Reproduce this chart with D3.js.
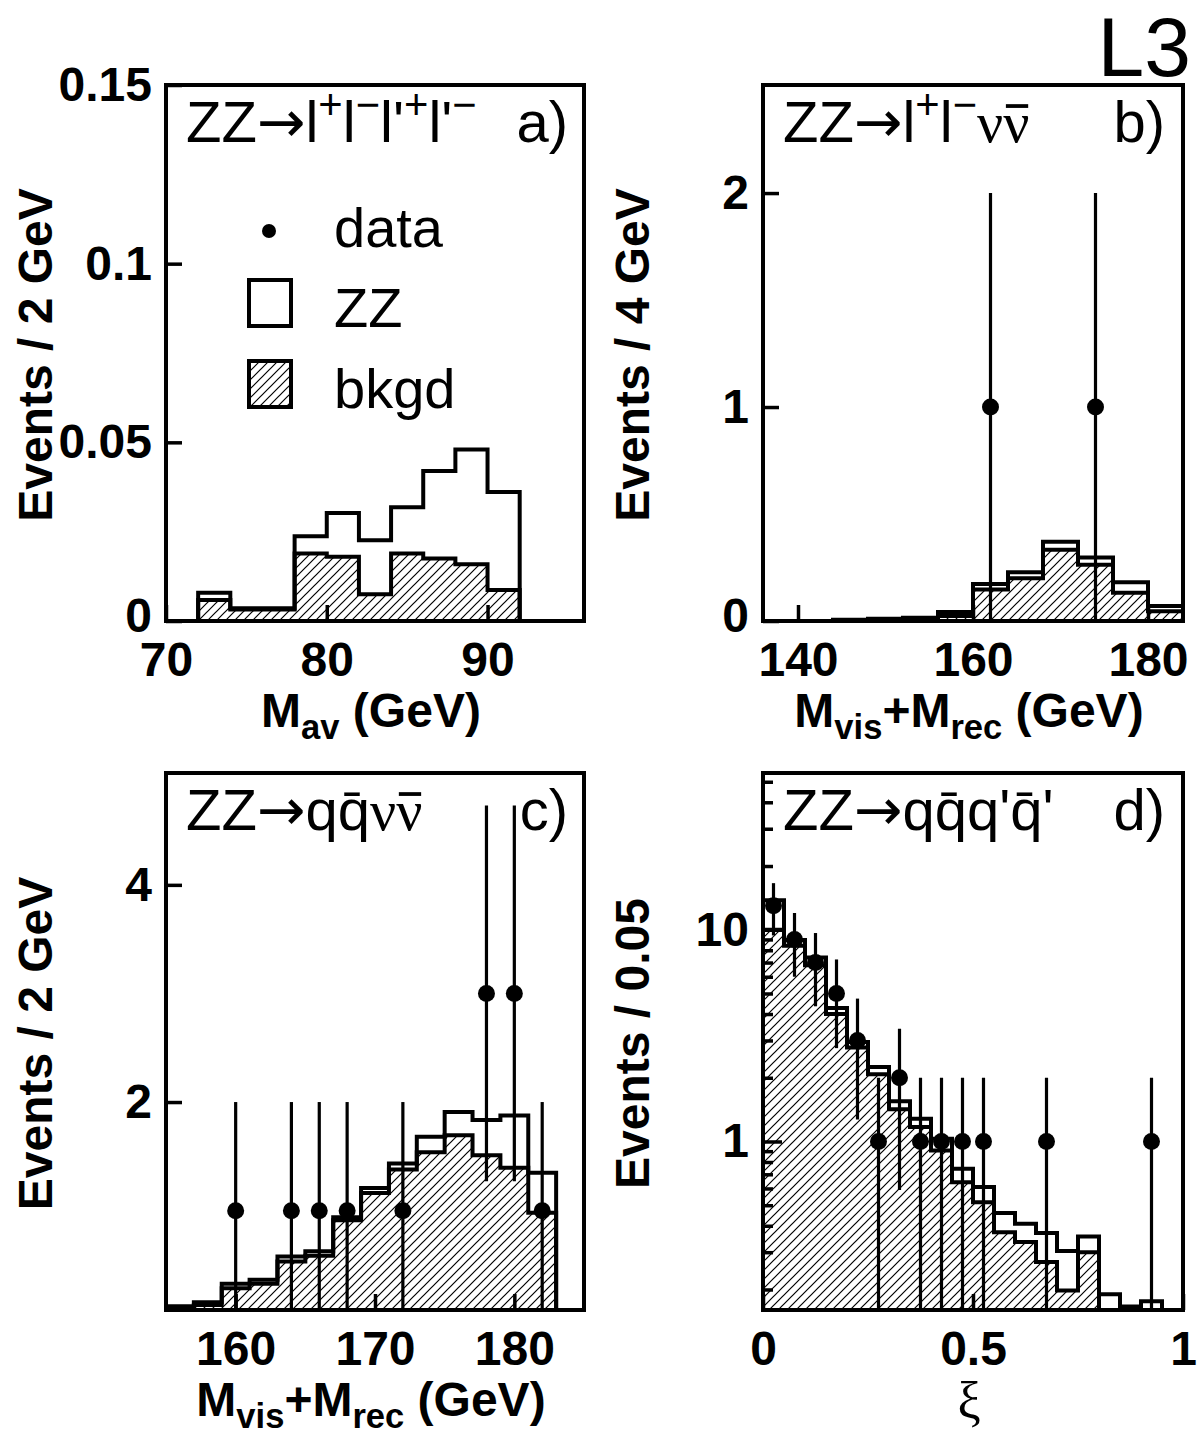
<!DOCTYPE html>
<html>
<head>
<meta charset="utf-8">
<script src="https://cdn.jsdelivr.net/npm/d3@7"></script>
<style>
  body { margin: 0; background: #fff; }
</style>
</head>
<body>
<script>
// a) ZZ -> l+l-l'+l'-, M_av, 2 GeV bins
var aEdges = [72, 74, 76, 78, 80, 82, 84, 86, 88, 90, 92];
var aTotal = [0.0079, 0.0036, 0.0036, 0.0237, 0.0302, 0.0226, 0.0318, 0.0420, 0.0480, 0.0361];
var aBkgd  = [0.0059, 0.0032, 0.0032, 0.0189, 0.0180, 0.0075, 0.0189, 0.0175, 0.0159, 0.0087];

// b) ZZ -> l+l- nu nubar, 4 GeV bins
var bEdges = [140, 144, 148, 152, 156, 160, 164, 168, 172, 176, 180, 184];
var bTotal = [0, 0.006, 0.010, 0.015, 0.042, 0.173, 0.228, 0.370, 0.297, 0.181, 0.070];
var bBkgd  = [0, 0.003, 0.006, 0.010, 0.023, 0.147, 0.200, 0.333, 0.263, 0.132, 0.046];
var bDataX = [162, 174];
var bDataY = [1, 1];
var bDataErr = [1, 1];

// c) ZZ -> q qbar nu nubar, 2 GeV bins
var cEdges = [155, 157, 159, 161, 163, 165, 167, 169, 171, 173, 175, 177, 179, 181, 183];
var cTotal = [0.12, 0.157, 0.326, 0.363, 0.578, 0.625, 0.938, 1.209, 1.434, 1.68, 1.908, 1.834, 1.877, 1.348];
var cBkgd  = [0.11, 0.13, 0.286, 0.326, 0.532, 0.585, 0.911, 1.163, 1.378, 1.538, 1.695, 1.511, 1.394, 0.98];
var cDataX = [160, 164, 166, 168, 172, 178, 180, 182];
var cDataY = [1, 1, 1, 1, 1, 3, 3, 1];
var cDataErr = [1, 1, 1, 1, 1, 1.73, 1.73, 1];

// d) ZZ -> q qbar q' qbar', xi, 0.05 bins (log scale)
var dEdges = [0, 0.05, 0.1, 0.15, 0.2, 0.25, 0.3, 0.35, 0.4, 0.45, 0.5, 0.55, 0.6, 0.65, 0.7, 0.75, 0.8, 0.85, 0.9, 0.95, 1.0];
var dTotal = [13.8, 8.94, 7.4, 4.27, 2.95, 2.25, 1.55, 1.28, 1.03, 0.743, 0.609, 0.459, 0.409, 0.37, 0.304, 0.356, 0.19, 0.166, 0.176, 0];
var dBkgd  = [10.0, 8.4, 6.8, 4.0, 2.78, 2.08, 1.42, 1.17, 0.906, 0.642, 0.517, 0.373, 0.335, 0.27, 0.198, 0.30, 0, 0, 0, 0];
var dDataX = [0.025, 0.075, 0.125, 0.175, 0.225, 0.275, 0.325, 0.375, 0.425, 0.475, 0.525, 0.675, 0.925];
var dDataY = [13, 9, 7, 5, 3, 1, 2, 1, 1, 1, 1, 1, 1];
var dDataErr = [3.6, 3, 2.65, 2.24, 1.73, 1, 1.41, 1, 1, 1, 1, 1, 1];

// tick labels
var aXTicks = [70, 80, 90],        aXLabels = ["70", "80", "90"];
var aYTicks = [0, 0.05, 0.1, 0.15], aYLabels = ["0", "0.05", "0.1", "0.15"];
var bXTicks = [140, 160, 180],     bXLabels = ["140", "160", "180"];
var bYTicks = [0, 1, 2],           bYLabels = ["0", "1", "2"];
var cXTicks = [160, 170, 180],     cXLabels = ["160", "170", "180"];
var cYTicks = [2, 4],              cYLabels = ["2", "4"];
var dXTicks = [0, 0.5, 1],         dXLabels = ["0", "0.5", "1"];
var dYTicks = [1, 10],             dYLabels = ["1", "10"];
var dYMinor = [0.2, 0.3, 0.4, 0.5, 0.6, 0.7, 0.8, 0.9, 2, 3, 4, 5, 6, 7, 8, 9, 20, 30, 40, 50];

var SANS = '"Liberation Sans", Arial, Helvetica, sans-serif';
var SERIF = '"Liberation Serif", "Times New Roman", serif';
var ARROW = '"DejaVu Sans", sans-serif';

var svg = d3.select("body").append("svg")
    .attr("width", 1199)
    .attr("height", 1437)
    .style("font-family", SANS);

var defs = svg.append("defs");
var pat = defs.append("pattern")
    .attr("id", "hatch")
    .attr("patternUnits", "userSpaceOnUse")
    .attr("width", 9)
    .attr("height", 9);
pat.append("rect").attr("width", 9).attr("height", 9).attr("fill", "#fff");
pat.append("path")
    .attr("d", "M-1,1L1,-1M0,9L9,0M8,10L10,8")
    .attr("stroke", "#000")
    .attr("stroke-width", 1.2);

// text with super/subscripts, parts = [{t, sup, sub, font, over}]
function rich(sel, parts, size) {
  var shift = 0, idx = 0, overs = [];
  parts.forEach(function(p) {
    var s = p.sup ? -0.40 * size : (p.sub ? 0.26 * size : 0);
    var t = sel.append("tspan").text(p.t).attr("dy", s - shift);
    if (p.sup || p.sub) t.attr("font-size", size * 0.72);
    if (p.font) t.style("font-family", p.font);
    if (p.over) overs.push(idx);
    idx += p.t.length;
    shift = s;
  });
  // bar over a glyph (nu-bar), drawn as a line
  var node = sel.node();
  var parent = d3.select(node.parentNode);
  overs.forEach(function(i) {
    var r = node.getExtentOfChar(i);
    var yb = +sel.attr("y") - 0.62 * size;
    parent.append("line")
        .attr("x1", r.x + r.width * 0.1).attr("x2", r.x + r.width * 0.95)
        .attr("y1", yb).attr("y2", yb)
        .attr("stroke", "#000")
        .attr("stroke-width", size * 0.065);
  });
}

function panel(o) {
  var g = svg.append("g");
  var x = d3.scaleLinear().domain(o.xDomain).range([o.x0, o.x1]);
  var y = (o.log ? d3.scaleLog() : d3.scaleLinear()).domain(o.yDomain).range([o.y1, o.y0]);
  var base = o.log ? o.y1 + 20 : y(0);
  function yv(v) { return v > 0 ? y(v) : base; }

  defs.append("clipPath").attr("id", "clip" + o.id)
    .append("rect")
    .attr("x", o.x0).attr("y", o.y0)
    .attr("width", o.x1 - o.x0).attr("height", o.y1 - o.y0);
  var plot = g.append("g").attr("clip-path", "url(#clip" + o.id + ")");

  function stepPts(edges, vals) {
    var pts = [[edges[0], null]];
    vals.forEach(function(v, i) { pts.push([edges[i], v]); });
    pts.push([edges[edges.length - 1], vals[vals.length - 1]]);
    pts.push([edges[edges.length - 1], null]);
    return pts;
  }
  var line = d3.line()
      .curve(d3.curveStepAfter)
      .x(function(d) { return x(d[0]); })
      .y(function(d) { return d[1] === null ? base : yv(d[1]); });

  // background: hatched
  plot.append("path")
      .attr("d", line(stepPts(o.edges, o.bkgd)))
      .attr("fill", "url(#hatch)")
      .attr("stroke", "none");
  // ZZ + bkgd outline
  plot.append("path")
      .attr("d", line(stepPts(o.edges, o.total)))
      .attr("fill", "none")
      .attr("stroke", "#000")
      .attr("stroke-width", 4)
      .attr("stroke-linejoin", "miter");
  plot.append("path")
      .attr("d", line(stepPts(o.edges, o.bkgd)))
      .attr("fill", "none")
      .attr("stroke", "#000")
      .attr("stroke-width", 4)
      .attr("stroke-linejoin", "miter");

  // data points
  if (o.dataX) {
    o.dataX.forEach(function(xv, i) {
      var v = o.dataY[i], e = o.dataErr[i];
      var lo = v - e;
      plot.append("line")
          .attr("x1", x(xv)).attr("x2", x(xv))
          .attr("y1", lo > 0 ? y(lo) : base)
          .attr("y2", y(v + e))
          .attr("stroke", "#000")
          .attr("stroke-width", 3.2);
      plot.append("circle")
          .attr("cx", x(xv)).attr("cy", y(v))
          .attr("r", 8.5)
          .attr("fill", "#000");
    });
  }

  // axes, ticks inside
  function styleAxis(ga, tw) {
    ga.select(".domain").remove();
    ga.selectAll("line").attr("stroke", "#000").attr("stroke-width", tw);
    ga.selectAll("text")
        .style("font-family", SANS)
        .style("font-size", "48px")
        .style("font-weight", "bold")
        .attr("fill", "#000");
  }
  var xAx = d3.axisBottom(x)
      .tickValues(o.xTicks)
      .tickFormat(function(d, i) { return o.xLabels[i]; })
      .tickSize(-16)
      .tickPadding(21);
  styleAxis(g.append("g").attr("transform", "translate(0," + o.y1 + ")").call(xAx), 3.5);

  var yAx = d3.axisLeft(y)
      .tickValues(o.yTicks)
      .tickFormat(function(d, i) { return o.yLabels[i]; })
      .tickSize(o.log ? -19 : -16)
      .tickPadding(14);
  var gy = g.append("g").attr("transform", "translate(" + o.x0 + ",0)").call(yAx);
  styleAxis(gy, 3.5);
  // lowest label sits a little higher so it clears the x labels
  gy.selectAll(".tick text").filter(function(d) { return d === 0; }).attr("dy", "0.22em");

  if (o.yMinor) {
    var yMin = d3.axisLeft(y).tickValues(o.yMinor).tickFormat("").tickSize(-10);
    styleAxis(g.append("g").attr("transform", "translate(" + o.x0 + ",0)").call(yMin), 3.5);
  }

  // frame
  g.append("rect")
      .attr("x", o.x0).attr("y", o.y0)
      .attr("width", o.x1 - o.x0).attr("height", o.y1 - o.y0)
      .attr("fill", "none")
      .attr("stroke", "#000")
      .attr("stroke-width", 4);

  // axis titles
  g.append("text")
      .attr("transform", "translate(" + (o.x0 - 114) + "," + ((o.y0 + o.y1) / 2 + 2) + ") rotate(-90)")
      .attr("text-anchor", "middle")
      .style("font-size", "48px")
      .style("font-weight", "bold")
      .text(o.yTitle);

  var xt = g.append("text")
      .attr("x", (o.x0 + o.x1) / 2 - 4)
      .attr("y", o.y1 + o.xTitleDy)
      .attr("text-anchor", "middle")
      .style("font-size", o.xTitleSize + "px")
      .style("font-weight", o.xTitleWeight);
  if (o.xTitleFont) xt.style("font-family", o.xTitleFont);
  rich(xt, o.xTitle, o.xTitleSize);

  // panel label
  var pl = g.append("text")
      .attr("x", o.x0 + 20)
      .attr("y", o.y0 + 57)
      .style("font-size", "58px");
  rich(pl, o.label, 58);
  g.append("text")
      .attr("x", o.x0 + 402)
      .attr("y", o.y0 + 57)
      .attr("text-anchor", "end")
      .style("font-size", "58px")
      .text(o.tag);

  return {x: x, y: y, g: g};
}

var MBAR = "\u0304";
var ARR = {t: "\u2192", font: ARROW};

var pa = panel({
  id: "a", x0: 166, x1: 584, y0: 85, y1: 621,
  xDomain: [70, 96], yDomain: [0, 0.15],
  edges: aEdges, total: aTotal, bkgd: aBkgd,
  xTicks: aXTicks, xLabels: aXLabels, yTicks: aYTicks, yLabels: aYLabels,
  yTitle: "Events / 2 GeV",
  xTitle: [{t: "M"}, {t: "av", sub: true}, {t: " (GeV)"}],
  xTitleDy: 106, xTitleSize: 48, xTitleWeight: "bold",
  label: [{t: "ZZ"}, ARR, {t: "l"}, {t: "+", sup: true}, {t: "l"}, {t: "\u2212", sup: true},
          {t: "l'"}, {t: "+", sup: true}, {t: "l'"}, {t: "\u2212", sup: true}],
  tag: "a)"
});

panel({
  id: "b", x0: 763, x1: 1183, y0: 85, y1: 621,
  xDomain: [136, 184], yDomain: [0, 2.505],
  edges: bEdges, total: bTotal, bkgd: bBkgd,
  dataX: bDataX, dataY: bDataY, dataErr: bDataErr,
  xTicks: bXTicks, xLabels: bXLabels, yTicks: bYTicks, yLabels: bYLabels,
  yTitle: "Events / 4 GeV",
  xTitle: [{t: "M"}, {t: "vis", sub: true}, {t: "+M"}, {t: "rec", sub: true}, {t: " (GeV)"}],
  xTitleDy: 106, xTitleSize: 48, xTitleWeight: "bold",
  label: [{t: "ZZ"}, ARR, {t: "l"}, {t: "+", sup: true}, {t: "l"}, {t: "\u2212", sup: true},
          {t: "\u03BD", font: SERIF}, {t: "\u03BD", font: SERIF, over: true}],
  tag: "b)"
});

panel({
  id: "c", x0: 166, x1: 584, y0: 773, y1: 1310,
  xDomain: [155, 185], yDomain: [0.085, 5.03],
  edges: cEdges, total: cTotal, bkgd: cBkgd,
  dataX: cDataX, dataY: cDataY, dataErr: cDataErr,
  xTicks: cXTicks, xLabels: cXLabels, yTicks: cYTicks, yLabels: cYLabels,
  yTitle: "Events / 2 GeV",
  xTitle: [{t: "M"}, {t: "vis", sub: true}, {t: "+M"}, {t: "rec", sub: true}, {t: " (GeV)"}],
  xTitleDy: 106, xTitleSize: 48, xTitleWeight: "bold",
  label: [{t: "ZZ"}, ARR, {t: "qq" + MBAR},
          {t: "\u03BD", font: SERIF}, {t: "\u03BD", font: SERIF, over: true}],
  tag: "c)"
});

panel({
  id: "d", x0: 763, x1: 1183, y0: 773, y1: 1310, log: true,
  xDomain: [0, 1], yDomain: [0.16, 55],
  edges: dEdges, total: dTotal, bkgd: dBkgd,
  dataX: dDataX, dataY: dDataY, dataErr: dDataErr,
  xTicks: dXTicks, xLabels: dXLabels, yTicks: dYTicks, yLabels: dYLabels, yMinor: dYMinor,
  yTitle: "Events / 0.05",
  xTitle: [{t: "\u03BE"}],
  xTitleFont: SERIF,
  xTitleDy: 108, xTitleSize: 52, xTitleWeight: "normal",
  label: [{t: "ZZ"}, ARR, {t: "qq" + MBAR + "q'q" + MBAR + "'"}],
  tag: "d)"
});

// legend (panel a)
var leg = pa.g.append("g");
leg.append("circle").attr("cx", 269).attr("cy", 231).attr("r", 7).attr("fill", "#000");
leg.append("rect").attr("x", 249).attr("y", 280).attr("width", 42).attr("height", 46)
    .attr("fill", "none").attr("stroke", "#000").attr("stroke-width", 4);
leg.append("rect").attr("x", 249).attr("y", 361).attr("width", 42).attr("height", 46)
    .attr("fill", "url(#hatch)").attr("stroke", "#000").attr("stroke-width", 4);
var legLabels = ["data", "ZZ", "bkgd"];
var legBase = [247, 327, 408];
legLabels.forEach(function(s, i) {
  leg.append("text")
      .attr("x", 334).attr("y", legBase[i])
      .style("font-size", "56px")
      .text(s);
});

// experiment tag
svg.append("text")
    .attr("x", 1191).attr("y", 76)
    .attr("text-anchor", "end")
    .style("font-size", "84px")
    .text("L3");
</script>
</body>
</html>
